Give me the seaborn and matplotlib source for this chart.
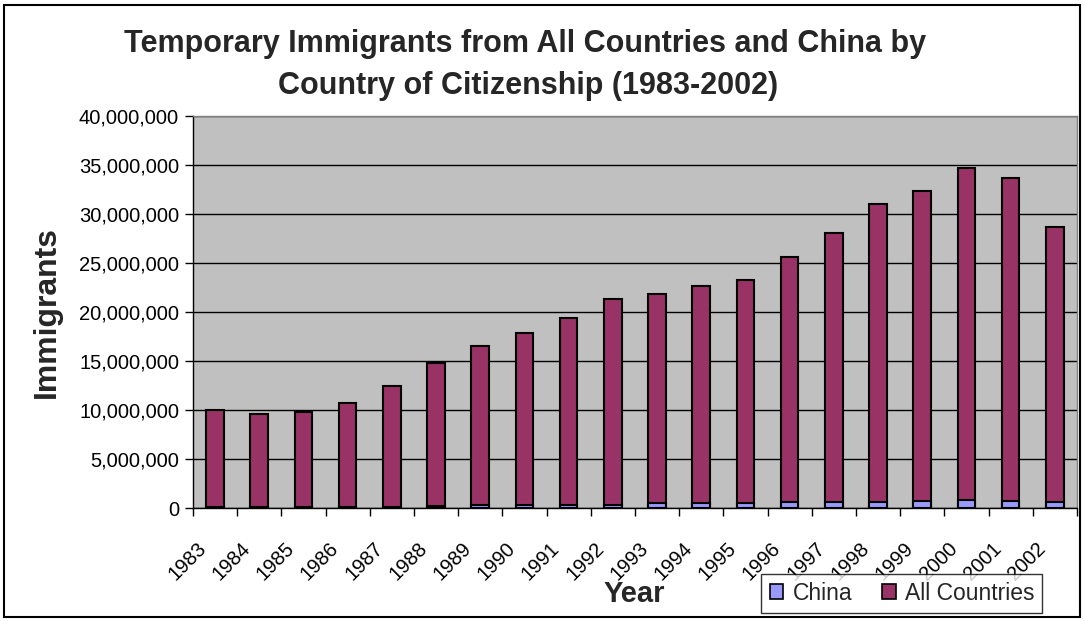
import matplotlib
matplotlib.use("Agg")
import matplotlib.pyplot as plt
from matplotlib.patches import Rectangle, Patch
from matplotlib.ticker import FuncFormatter, MultipleLocator, FixedLocator
from matplotlib.transforms import ScaledTranslation
import numpy as np
import pandas as pd
import seaborn as sns

# Temporary immigrants by year (stacked: China at bottom, All Countries on top)
years = [str(y) for y in range(1983, 2003)]
china = [120000, 130000, 140000, 150000, 170000, 200000, 300000, 300000, 320000, 330000,
         500000, 520000, 500000, 630000, 660000, 680000, 700000, 880000, 700000, 680000]
all_countries = [9850000, 9470000, 9640000, 10610000, 12320000, 14570000, 16240000, 17560000,
                 19070000, 20990000, 21370000, 22130000, 22760000, 24970000, 27420000,
                 30290000, 31630000, 33760000, 32980000, 27980000]

df = pd.DataFrame({"Year": years, "China": china, "All Countries": all_countries})
df["Total"] = df["China"] + df["All Countries"]

sns.set_theme(style="white")
plt.rcParams["font.family"] = ["Liberation Sans", "DejaVu Sans"]

fig = plt.figure(figsize=(10.84, 6.21), dpi=100)
ax = fig.add_axes([0.178, 0.1815, 0.8155, 0.632])
ax.set_facecolor("#C0C0C0")

purple = "#993366"
lavender = "#9999FF"

sns.barplot(data=df, x="Year", y="Total", color=purple, width=0.4,
            edgecolor="black", linewidth=1.5, saturation=1, ax=ax, zorder=3)
sns.barplot(data=df, x="Year", y="China", color=lavender, width=0.4,
            edgecolor="black", linewidth=1.5, saturation=1, ax=ax, zorder=4)

ax.set_xlim(-0.5, len(years) - 0.5)
ax.set_ylim(0, 40000000)
ax.yaxis.set_major_locator(MultipleLocator(5000000))
ax.yaxis.set_major_formatter(FuncFormatter(lambda v, p: f"{int(v):,}"))
ax.grid(axis="y", color="black", linewidth=1, zorder=1)
ax.set_axisbelow(True)

for side in ["top", "right"]:
    ax.spines[side].set_color("#808080")
    ax.spines[side].set_linewidth(1)
for side in ["left", "bottom"]:
    ax.spines[side].set_color("black")
    ax.spines[side].set_linewidth(1)

ax.tick_params(axis="y", which="major", left=True, length=6, width=1, color="black",
               labelsize=14.5, labelcolor="black", pad=4)
ax.xaxis.set_minor_locator(FixedLocator(np.arange(-0.5, len(years), 1.0)))
ax.tick_params(axis="x", which="minor", bottom=True, length=6, width=1, color="black")
ax.tick_params(axis="x", which="major", bottom=False, length=0, labelsize=14.5,
               labelcolor="black", pad=27)
shift = ScaledTranslation(-12 / 100, 0, fig.dpi_scale_trans)
for lbl in ax.get_xticklabels():
    lbl.set_rotation(45)
    lbl.set_ha("right")
    lbl.set_va("center")
    lbl.set_rotation_mode("anchor")
    lbl.set_transform(lbl.get_transform() + shift)

ax.set_xlabel("")
ax.set_ylabel("Immigrants", fontsize=23, fontweight="bold", labelpad=12)
fig.text(0.585, 0.043, "Year", fontsize=21, fontweight="bold", ha="center", va="center")

fig.text(0.484, 0.929, "Temporary Immigrants from All Countries and China by",
         fontsize=22, fontweight="bold", ha="center", va="center")
fig.text(0.487, 0.862, "Country of Citizenship (1983-2002)",
         fontsize=22, fontweight="bold", ha="center", va="center")

handles = [Patch(facecolor=lavender, edgecolor="black", linewidth=1.2, label="China"),
           Patch(facecolor=purple, edgecolor="black", linewidth=1.2, label="All Countries")]
leg = fig.legend(handles=handles, loc="center", bbox_to_anchor=(0.832, 0.045),
                 ncol=2, fontsize=16.5, frameon=True, fancybox=False, edgecolor="black",
                 handlelength=0.6, handleheight=0.6, handletextpad=0.4, columnspacing=1.3,
                 borderpad=0.35)
leg.get_frame().set_linewidth(1)
leg.set_zorder(10)

fig.patches.append(Rectangle((0.004, 0.006), 0.992, 0.986, transform=fig.transFigure,
                             fill=False, edgecolor="black", linewidth=1.5))

fig.savefig("out.png", dpi=100)
